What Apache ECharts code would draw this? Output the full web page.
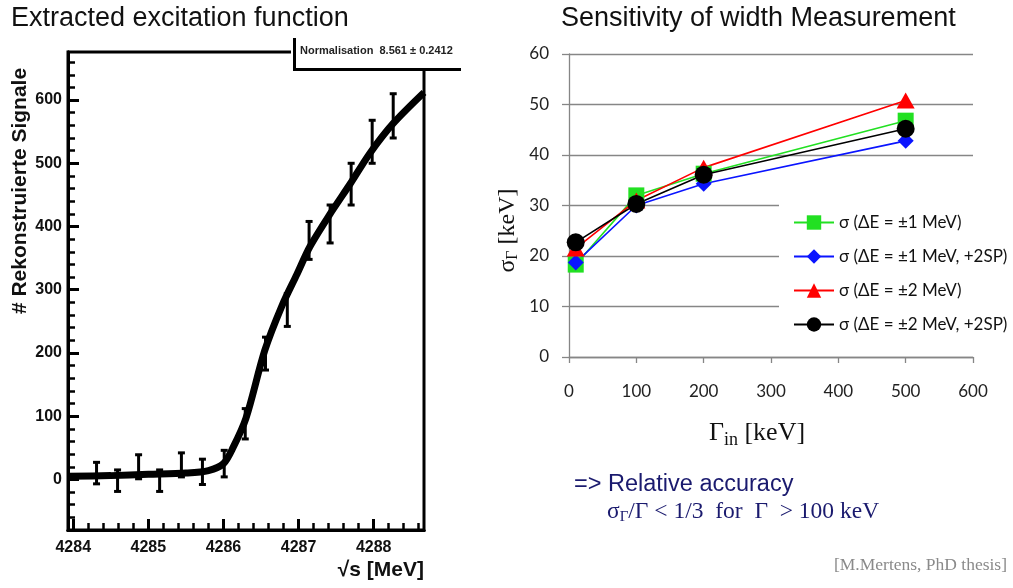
<!DOCTYPE html>
<html lang="en">
<head>
    <meta charset="UTF-8">
    <title>Excitation function / width sensitivity</title>
    <script type="text/javascript" src="https://cdn.jsdelivr.net/npm/echarts@6/dist/echarts.min.js"></script>
    <style>
        html, body { margin: 0; padding: 0; background: #fff; }
    </style>
</head>
<body>
    <div id="charts" style="width:1013px;height:588px;"></div>
</body>
<script type="text/javascript">
    // left panel: fitted excitation curve
    var fitX = [4283.93, 4284.5, 4285.0, 4285.5, 4285.8, 4286.0, 4286.13, 4286.3, 4286.55, 4286.78, 4286.98, 4287.15, 4287.42, 4287.69, 4287.95, 4288.26, 4288.67];
    var fitY = [5, 6, 8, 10, 14, 25, 51, 97, 204, 275, 325, 368, 420, 468, 516, 563, 612];
    // left panel: measured points with errors
    var ptX = [4284.31, 4284.59, 4284.87, 4285.15, 4285.44, 4285.72, 4286.01, 4286.29, 4286.56, 4286.85, 4287.14, 4287.42, 4287.70, 4287.98, 4288.26];
    var ptY = [10, -2, 20, -2, 23, 12, 25, 88, 199, 268, 378, 404, 467, 534, 575];
    var ptErr = [17, 17, 19, 17, 19, 20, 21, 24, 26, 26, 30, 30, 33, 34, 35];
    var leftXTicks = [4284, 4285, 4286, 4287, 4288];
    var leftYTicks = [0, 100, 200, 300, 400, 500, 600];

    // right panel: sigma_Gamma vs Gamma_in
    var gammaIn = [10, 100, 200, 500];
    var names = ['σ (ΔE = ±1 MeV)', 'σ (ΔE = ±1 MeV, +2SP)', 'σ (ΔE = ±2 MeV)', 'σ (ΔE = ±2 MeV, +2SP)'];
    var sig1 = [18.3, 32, 36.3, 46.8];
    var sig1sp = [18.7, 30, 34.3, 42.8];
    var sig2 = [21.5, 31, 37.5, 50.8];
    var sig2sp = [22.7, 30.3, 36.1, 45.2];

    function zip(xs, ys) {
        return xs.map(function (x, i) { return [x, ys[i]]; });
    }
    // minor tick positions
    var minorX = [];
    for (var v = 4284; v <= 4288.6; v = Math.round((v + 0.2) * 10) / 10) {
        if (Math.abs(v - Math.round(v)) > 0.01) minorX.push(v);
    }
    var minorY = [];
    for (var w = -60; w <= 660; w += 20) {
        if (w % 100 !== 0) minorY.push(w);
    }

    var myChart = echarts.init(document.getElementById('charts'));

    var bold = { fontFamily: 'Liberation Sans, Arial', fontWeight: 'bold', color: '#111' };
    var calib = 'Lato, "Open Sans", sans-serif';
    var serif = '"Liberation Serif", "DejaVu Serif", serif';
    var gray = '#868686';
    var plain = function (val) { return String(val); };
    var frameLine = { show: true, onZero: false, lineStyle: { color: '#000', width: 3 } };

    var option = {
        animation: false,
        backgroundColor: '#fff',
        title: [{
            text: 'Extracted excitation function',
            left: 6, top: 0,
            textStyle: { fontFamily: 'Liberation Sans, Arial', fontWeight: 'normal', fontSize: 27, color: '#111' }
        }, {
            text: 'Sensitivity of width Measurement',
            left: 556, top: 0,
            textStyle: { fontFamily: 'Liberation Sans, Arial', fontWeight: 'normal', fontSize: 27, color: '#111' }
        }],
        grid: [
            { left: 68, right: 589, top: 52, bottom: 58, show: true, borderColor: '#000', borderWidth: 3 },
            { left: 569, right: 40, top: 54, bottom: 231 }
        ],
        legend: {
            data: names,
            orient: 'vertical',
            left: 779, top: 198,
            padding: [16, 12, 14, 14],
            itemGap: 17,
            itemWidth: 40,
            itemHeight: 18,
            backgroundColor: '#fff',
            textStyle: { fontFamily: calib, fontSize: 17, color: '#111' }
        },
        xAxis: [{
            gridIndex: 0, type: 'value', position: 'bottom', min: 4283.93, max: 4288.67,
            axisLine: frameLine,
            axisTick: { show: true, inside: true, length: 11, lineStyle: { width: 3, color: '#000' }, customValues: leftXTicks },
            axisLabel: Object.assign({ fontSize: 16, margin: 10, customValues: leftXTicks, formatter: plain }, bold),
            splitLine: { show: false },
            name: '√s [MeV]', nameLocation: 'end', nameGap: 0,
            nameTextStyle: Object.assign({ fontSize: 21, align: 'right', verticalAlign: 'top', padding: [30, 0, 0, 0] }, bold)
        }, {
            gridIndex: 0, type: 'value', position: 'bottom', min: 4283.93, max: 4288.67,
            axisLine: frameLine,
            axisTick: { show: true, inside: true, length: 7, lineStyle: { width: 2.5, color: '#000' }, customValues: minorX },
            axisLabel: { show: false },
            splitLine: { show: false }
        }, {
            gridIndex: 1, type: 'value', min: 0, max: 600, interval: 100,
            axisLine: { lineStyle: { color: gray, width: 1.3 } },
            axisTick: { length: 6, lineStyle: { color: gray, width: 1.3 } },
            axisLabel: { fontFamily: calib, fontSize: 17, color: '#222', margin: 26 },
            splitLine: { show: false },
            name: '{g|Γ}{s|in}{g| [keV]}', nameLocation: 'middle', nameGap: 60,
            nameTextStyle: {
                padding: [0, 28, 0, 0],
                rich: {
                    g: { fontFamily: serif, fontSize: 26, color: '#111' },
                    s: { fontFamily: serif, fontSize: 18, color: '#111', padding: [14, 0, 0, 0] }
                }
            }
        }],
        yAxis: [{
            gridIndex: 0, type: 'value', position: 'left', min: -80, max: 676,
            axisLine: frameLine,
            axisTick: { show: true, inside: true, length: 11, lineStyle: { width: 3, color: '#000' }, customValues: leftYTicks },
            axisLabel: Object.assign({ fontSize: 16, margin: 6, customValues: leftYTicks }, bold),
            splitLine: { show: false },
            name: '# Rekonstruierte Signale', nameLocation: 'middle', nameGap: 37,
            nameTextStyle: Object.assign({ fontSize: 21, padding: [0, 0, 0, 200] }, bold)
        }, {
            gridIndex: 0, type: 'value', position: 'left', min: -80, max: 676,
            axisLine: frameLine,
            axisTick: { show: true, inside: true, length: 7, lineStyle: { width: 2.5, color: '#000' }, customValues: minorY },
            axisLabel: { show: false },
            splitLine: { show: false }
        }, {
            gridIndex: 1, type: 'value', min: 0, max: 60, interval: 10,
            axisLine: { show: true, lineStyle: { color: gray, width: 1.3 } },
            axisTick: { show: true, length: 7, lineStyle: { color: gray, width: 1.3 } },
            axisLabel: { fontFamily: calib, fontSize: 17, color: '#222', margin: 20 },
            splitLine: { lineStyle: { color: gray, width: 1.3 } },
            name: '{g|σ}{s|Γ}{g| [keV]}', nameLocation: 'middle', nameGap: 48,
            nameTextStyle: {
                padding: [0, 50, 0, 0],
                rich: {
                    g: { fontFamily: serif, fontSize: 24, color: '#111' },
                    s: { fontFamily: serif, fontSize: 16, color: '#111', padding: [11, 0, 0, 0] }
                }
            }
        }],
        series: [{
            type: 'line', name: 'fit', xAxisIndex: 0, yAxisIndex: 0,
            data: zip(fitX, fitY), smooth: 0.3, showSymbol: false, silent: true,
            lineStyle: { color: '#000', width: 7 }
        }, {
            type: 'custom', name: 'data', xAxisIndex: 0, yAxisIndex: 0,
            data: ptX.map(function (x, i) { return [x, ptY[i], ptErr[i]]; }),
            renderItem: function (params, api) {
                var x = api.value(0), y = api.value(1), e = api.value(2);
                var lo = api.coord([x, y - e]);
                var hi = api.coord([x, y + e]);
                var cw = 3.5;
                var st = { stroke: '#000', lineWidth: 3 };
                return {
                    type: 'group',
                    children: [
                        { type: 'line', shape: { x1: lo[0], y1: lo[1], x2: hi[0], y2: hi[1] }, style: st },
                        { type: 'line', shape: { x1: lo[0] - cw, y1: lo[1], x2: lo[0] + cw, y2: lo[1] }, style: st },
                        { type: 'line', shape: { x1: hi[0] - cw, y1: hi[1], x2: hi[0] + cw, y2: hi[1] }, style: st }
                    ]
                };
            },
            z: 3
        }, {
            type: 'line', name: names[0], xAxisIndex: 2, yAxisIndex: 2,
            data: zip(gammaIn, sig1), symbol: 'rect', symbolSize: 16,
            itemStyle: { color: '#22e022' }, lineStyle: { color: '#22e022', width: 1.6 }
        }, {
            type: 'line', name: names[1], xAxisIndex: 2, yAxisIndex: 2,
            data: zip(gammaIn, sig1sp), symbol: 'diamond', symbolSize: 16,
            itemStyle: { color: '#0a14ff' }, lineStyle: { color: '#0a14ff', width: 1.6 }
        }, {
            type: 'line', name: names[2], xAxisIndex: 2, yAxisIndex: 2,
            data: zip(gammaIn, sig2), symbol: 'triangle', symbolSize: [18, 16],
            itemStyle: { color: '#ff0000' }, lineStyle: { color: '#ff0000', width: 1.6 }
        }, {
            type: 'line', name: names[3], xAxisIndex: 2, yAxisIndex: 2,
            data: zip(gammaIn, sig2sp), symbol: 'circle', symbolSize: 18,
            itemStyle: { color: '#000' }, lineStyle: { color: '#000', width: 1.6 }
        }],
        graphic: [
            // stat box over the frame corner
            { type: 'rect', z: 100, shape: { x: 291, y: 36, width: 170, height: 32 }, style: { fill: '#fff' } },
            { type: 'polyline', z: 101, shape: { points: [[294.5, 38], [294.5, 69.5], [461, 69.5]] }, style: { stroke: '#000', lineWidth: 3, fill: null } },
            {
                type: 'text', z: 101, x: 300, y: 51,
                style: { text: 'Normalisation  8.561 ± 0.2412', fill: '#222', font: 'bold 11px "Liberation Sans", Arial', verticalAlign: 'middle' }
            },
            {
                type: 'text', x: 574, y: 485,
                style: { text: '=> Relative accuracy', fill: '#1a1a6e', font: '23.5px "Liberation Sans", Arial', verticalAlign: 'middle' }
            },
            {
                type: 'text', x: 607, y: 512,
                style: {
                    text: '{a|σ}{s|Γ}{a|/Γ < 1/3  for  Γ  > 100 keV}',
                    verticalAlign: 'middle',
                    rich: {
                        a: { fontFamily: serif, fontSize: 23.5, fill: '#1a1a6e' },
                        s: { fontFamily: serif, fontSize: 15, fill: '#1a1a6e', padding: [10, 0, 0, 0] }
                    }
                }
            },
            {
                type: 'text', x: 1007, y: 565,
                style: { text: '[M.Mertens, PhD thesis]', fill: '#8a8a8a', font: '17.5px "Liberation Serif", serif', align: 'right', verticalAlign: 'middle' }
            }
        ]
    };

    myChart.setOption(option);
</script>
</html>
